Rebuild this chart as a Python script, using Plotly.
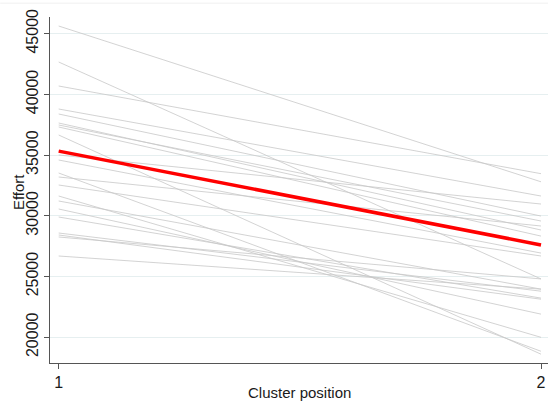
import plotly.graph_objects as go

positions = [1, 2]
start_effort = [45634, 42669, 40692, 38797, 38385, 37644, 37479, 37315, 36656, 35008, 34597,
                33526, 33196, 32537, 31631, 31219, 30560, 29901, 28583, 28418, 28253, 26688]
end_effort = [32800, 24800, 33470, 31630, 29980, 28830, 29570, 28330, 18600, 30970, 26930,
              18840, 29160, 26690, 19990, 23960, 21900, 23220, 23790, 23130, 24800, 23960]
trend_effort = [35330, 27600]
y_ticks = [20000, 25000, 30000, 35000, 40000, 45000]
y_tick_labels = ["20000", "25000", "30000", "35000", "40000", "45000"]

fig = go.Figure()
for s, e in zip(start_effort, end_effort):
    fig.add_trace(go.Scatter(x=positions, y=[s, e], mode="lines",
                             line=dict(color="#c8c8c8", width=0.8),
                             showlegend=False, hoverinfo="skip"))
fig.add_trace(go.Scatter(x=positions, y=trend_effort, mode="lines",
                         line=dict(color="#ff0000", width=3.5), showlegend=False))

font = dict(family="Liberation Sans, Arial, sans-serif", size=14, color="#1a1a1a")
fig.update_layout(
    width=548, height=401,
    margin=dict(l=50, r=0, t=17, b=38),
    paper_bgcolor="white", plot_bgcolor="white",
    font=font,
    xaxis=dict(range=[0.982, 2.0145], tickvals=positions, ticktext=["1", "2"],
               tickfont=dict(size=16),
               showgrid=False, zeroline=False, showline=True, linecolor="#555555",
               linewidth=1, ticks="outside", ticklen=5, tickcolor="#555555"),
    yaxis=dict(range=[17875, 46376], tickvals=y_ticks, ticktext=y_tick_labels,
               tickfont=dict(size=16),
               showgrid=True, gridcolor="#e6eff0", gridwidth=1, zeroline=False,
               showline=True, linecolor="#555555", linewidth=1,
               ticks="outside", ticklen=5, tickcolor="#555555", tickangle=-90),
)
fig.add_annotation(text="Effort", xref="paper", yref="paper", x=-0.0643, y=0.494,
                   xanchor="center", yanchor="middle", textangle=-90, showarrow=False,
                   font=dict(size=15))
fig.add_annotation(text="Cluster position", xref="paper", yref="paper", x=0.5, y=-0.0867,
                   xanchor="center", yanchor="middle", showarrow=False,
                   font=dict(size=15))
fig.add_shape(type="line", xref="paper", yref="paper", x0=-0.1, x1=1, y0=1.04, y1=1.04,
              line=dict(color="#f0f0f0", width=1))
fig.write_html("out.html")
